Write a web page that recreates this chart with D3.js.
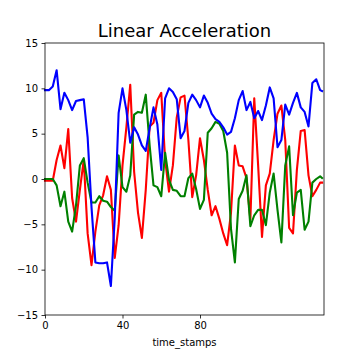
<!DOCTYPE html>
<html lang="en">
  <head>
    <meta charset="utf-8">
    <title>Linear Acceleration</title>
    <script src="https://cdn.jsdelivr.net/npm/d3@7"></script>
    <style>
      html, body { margin:0; padding:0; background:#fff; }
      svg { display:block; }
      text { font-family: "DejaVu Sans", sans-serif; }
    </style>
  </head>
  <body>
    <script>
      // time axis: every 2nd stamp, plus the last one
      var timeStamps = d3.range(0, 144, 2).concat([143]);

      var redValues = [-0.2, -0.2, -0.2, 2.1, 3.7, 1.2, 5.5, -2.1, -4.7, -1.2,
                       2.1, -6.0, -9.5, -5.8, -2.9, -1.8, 0.3, -1.2, -8.7, -5.1,
                       1.5, 5.7, 10.4, 0.8, -3.7, -6.5, -1.2, 5.8, 6.2, 8.7,
                       9.5, 2.1, -1.4, 1.5, 6.8, 9.0, 9.2, 4.3, -2.0, 0.4,
                       4.5, 2.1, -1.2, -4.0, -3.0, -4.4, -6.0, -7.3, -3.7, 3.7,
                       1.5, 1.4, 0.1, -4.5, 8.9, 1.5, -6.4, -0.7, 0.6, 4.3,
                       7.2, 8.1, 4.3, -5.4, -6.0, 1.0, 5.3, 5.4, 0.4, -1.9,
                       -1.2, -0.4, -0.4];

      var greenValues = [0.0, 0.0, 0.0, -0.7, -3.0, -1.4, -4.7, -5.8, -2.9, 1.5,
                         2.3, -0.4, -2.6, -2.6, -1.9, -2.4, -2.5, -3.1, -3.5, 2.6,
                         -0.9, -1.4, 0.4, 7.1, 7.4, 7.3, 9.3, 3.7, -0.7, -0.9,
                         -1.9, 2.9, -0.1, -1.2, -1.3, -1.9, -1.9, 0.1, 0.6, -1.1,
                         -3.3, -2.3, 5.1, 5.6, 6.3, 6.1, 5.3, 2.9, -5.5, -9.2,
                         -2.2, -1.3, 0.4, -5.2, -4.0, -3.4, -3.4, -5.1, -1.5, 0.6,
                         -3.4, -7.0, 1.5, 3.6, -4.0, -1.5, -1.2, -5.6, -4.7, -0.4,
                         0.0, 0.3, 0.1];

      var blueValues = [9.8, 9.8, 10.2, 12.0, 7.7, 9.5, 8.7, 7.6, 8.6, 8.7,
                        8.8, 4.6, -3.1, -9.2, -9.3, -9.3, -9.2, -11.8, -4.3, 7.3,
                        10.0, 7.6, 4.0, 5.7, 4.9, 3.7, 3.1, 5.6, 7.9, 6.0,
                        1.0, 8.9, 10.0, 9.6, 8.8, 4.5, 5.3, 8.4, 9.3, 8.7,
                        7.9, 9.2, 8.4, 7.2, 6.6, 6.3, 5.7, 4.9, 5.2, 6.7,
                        8.7, 9.7, 7.6, 8.5, 6.7, 7.5, 6.5, 8.1, 10.1, 8.9,
                        3.5, 4.3, 8.2, 7.1, 8.4, 9.5, 7.9, 7.4, 5.8, 10.6,
                        11.0, 9.8, 9.7];

      var xTicks = [0, 40, 80];
      var yTicks = [-15, -10, -5, 0, 5, 10, 15];

      var series = [
        {name: "red", values: redValues},
        {name: "green", values: greenValues},
        {name: "blue", values: blueValues}
      ];

      // figure geometry
      var width = 360, height = 360;
      var margin = {top: 43, right: 36, bottom: 45, left: 45};

      var svg = d3.select("body").append("svg")
         .attr("width", width)
         .attr("height", height);

      var x = d3.scaleLinear()
         .domain([0, 144])
         .range([margin.left, width - margin.right]);

      var y = d3.scaleLinear()
         .domain([-15, 15])
         .range([height - margin.bottom, margin.top]);

      var xAxis = svg.append("g")
         .attr("transform", "translate(0," + (height - margin.bottom) + ")")
         .call(d3.axisBottom(x).tickValues(xTicks).tickSize(3.5).tickPadding(3.5));

      var yAxis = svg.append("g")
         .attr("transform", "translate(" + margin.left + ",0)")
         .call(d3.axisLeft(y).tickValues(yTicks).tickSize(3.5).tickPadding(3.5)
               .tickFormat(function(d) { return d < 0 ? "\u2212" + Math.abs(d) : d; }));

      [xAxis, yAxis].forEach(function(g) {
        g.select(".domain").remove();
        g.selectAll("line").attr("stroke", "#000").attr("stroke-width", 0.8);
        g.selectAll("text").attr("fill", "#000")
         .style("font-size", "10px")
         .style("font-family", "'DejaVu Sans', sans-serif");
      });

      var line = d3.line()
         .x(function(d, i) { return x(timeStamps[i]); })
         .y(function(d) { return y(d); });

      svg.append("g")
         .selectAll("path")
         .data(series)
         .enter()
         .append("path")
         .attr("d", function(s) { return line(s.values); })
         .attr("fill", "none")
         .attr("stroke", function(s) { return s.name; })
         .attr("stroke-width", 2.1)
         .attr("stroke-linejoin", "round")
         .attr("stroke-linecap", "square");

      // frame
      svg.append("rect")
         .attr("x", margin.left)
         .attr("y", margin.top)
         .attr("width", width - margin.left - margin.right)
         .attr("height", height - margin.top - margin.bottom)
         .attr("fill", "none")
         .attr("stroke", "#000")
         .attr("stroke-width", 0.8);

      svg.append("text")
         .attr("x", (margin.left + width - margin.right) / 2)
         .attr("y", 37)
         .attr("text-anchor", "middle")
         .style("font-size", "18px")
         .text("Linear Acceleration");

      svg.append("text")
         .attr("x", (margin.left + width - margin.right) / 2)
         .attr("y", 346)
         .attr("text-anchor", "middle")
         .style("font-size", "10px")
         .text("time_stamps");
    </script>
  </body>
</html>
